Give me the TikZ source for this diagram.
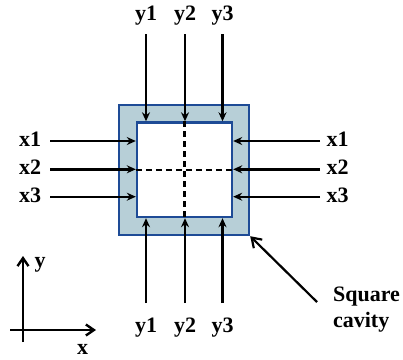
\documentclass[tikz,border=0pt]{standalone}
\usepackage{fontspec}
\setmainfont{Liberation Serif}
\usetikzlibrary{arrows.meta,positioning,calc}
\definecolor{wallfill}{RGB}{183,207,215}
\definecolor{wallline}{RGB}{30,75,150}
\tikzset{
  lbl/.style={font=\fontsize{22}{26}\selectfont\bfseries, inner sep=0pt},
  inarr/.style={-{Stealth[length=9pt,width=8pt]}, line width=2.4pt},
  pointer/.style={-{Straight Barb[length=9pt,width=12pt]}, line width=2.2pt},
  axisarr/.style={-{Straight Barb[length=8pt,width=11pt]}, line width=2.4pt},
  midln/.style={dash pattern=on 6pt off 4pt, line width=2.2pt},
}

\begin{document}
\begin{tikzpicture}[x=1pt,y=-1pt]
    \useasboundingbox (0,0) rectangle (403,359);
    % walls and cavity
    \node[draw=wallline, fill=wallfill, line width=2.4pt, minimum size=130pt, inner sep=0pt] (wall) at (184,170) {};
    \node[draw=wallline, fill=white, line width=2.4pt, minimum width=95pt, minimum height=94.5pt, inner sep=0pt] (cavity) at (184.5,169.75) {};
    % mid lines
    \draw[midln] (cavity.north) -- (cavity.south);
    \draw[midln] (cavity.west) -- (cavity.east);
    % arrows from top and bottom
    \foreach \i/\x in {1/146,2/185,3/222.5}{
      \node[lbl] (ty\i) at (\x,15.5) {y\i};
      \coordinate (ts\i) at (\x,34);
      \draw[inarr] (ts\i) -- (ts\i |- cavity.north);
      \node[lbl] (by\i) at (\x,328) {y\i};
      \coordinate (bs\i) at (\x,303);
      \draw[inarr] (bs\i) -- (bs\i |- cavity.south);
    }
    % arrows from left and right
    \foreach \i/\y in {1/141,2/169.3,3/196.7}{
      \node[lbl] (lx\i) at (30,\y-1.8) {x\i};
      \coordinate (ls\i) at (50,\y);
      \draw[inarr] (ls\i) -- (ls\i -| cavity.west);
      \node[lbl] (rx\i) at (337.5,\y-1.8) {x\i};
      \coordinate (rs\i) at (320,\y);
      \draw[inarr] (rs\i) -- (rs\i -| cavity.east);
    }
    % label for the cavity
    \node[lbl, align=left] (name) at (366.5,310) {Square\\cavity};
    \coordinate (tail) at (317,302);
    \draw[pointer] (tail) -- (wall.south east);
    % axes
    \coordinate (o) at (23,330);
    \coordinate (ytip) at (23,256);
    \coordinate (xtip) at (96,330);
    \draw[axisarr] (23,342) -- (ytip);
    \draw[axisarr] (10,330) -- (xtip);
    \node[lbl] (ylab) at (40,265) {y};
    \node[lbl] (xlab) at (82.5,349.5) {x};
  \end{tikzpicture}
\end{document}
